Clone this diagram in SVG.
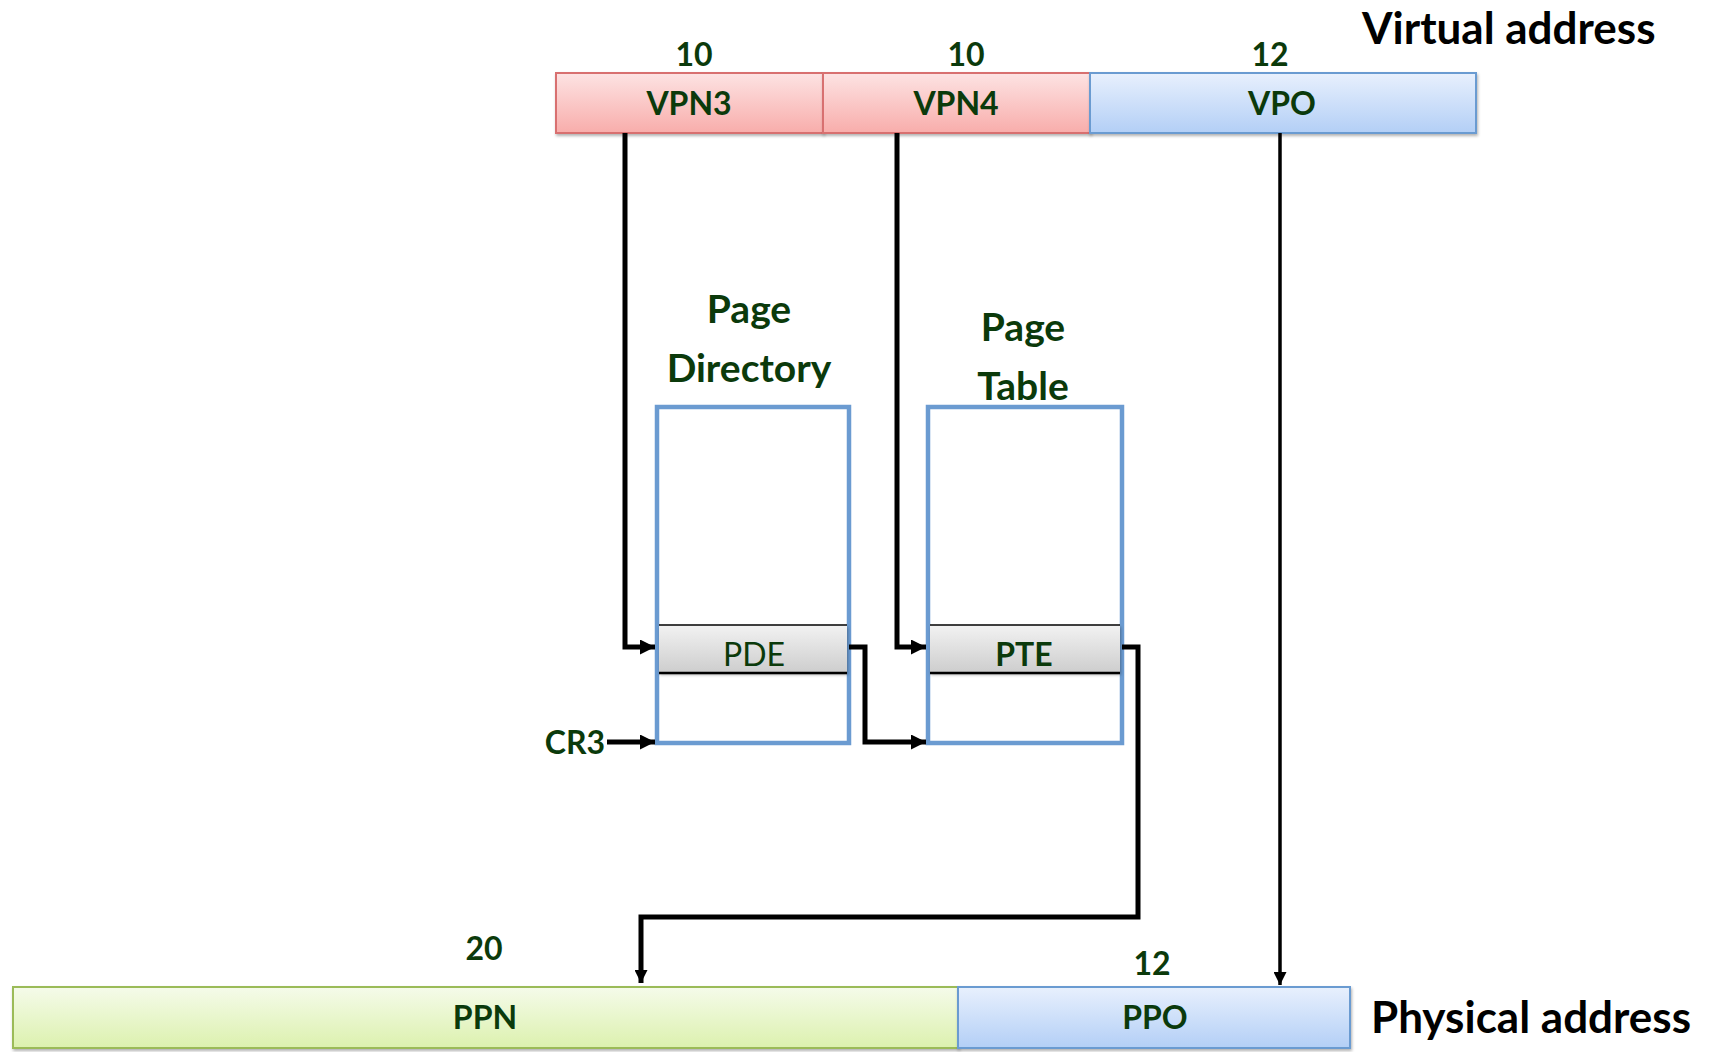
<svg xmlns="http://www.w3.org/2000/svg" width="1716" height="1052" viewBox="0 0 1716 1052">
<defs>
<linearGradient id="gRed" x1="0" y1="0" x2="0" y2="1"><stop offset="0" stop-color="#fde3e3"/><stop offset="1" stop-color="#f8adab"/></linearGradient>
<linearGradient id="gBlue" x1="0" y1="0" x2="0" y2="1"><stop offset="0" stop-color="#e8f0fd"/><stop offset="1" stop-color="#b3cff6"/></linearGradient>
<linearGradient id="gGreen" x1="0" y1="0" x2="0" y2="1"><stop offset="0" stop-color="#f5fbea"/><stop offset="1" stop-color="#dcf1ae"/></linearGradient>
<linearGradient id="gGray" x1="0" y1="0" x2="0" y2="1"><stop offset="0" stop-color="#f2f2f2"/><stop offset="1" stop-color="#cdcdcd"/></linearGradient>
<filter id="sh" x="-5%" y="-20%" width="110%" height="150%"><feDropShadow dx="1" dy="2" stdDeviation="1.5" flood-color="#000" flood-opacity="0.3"/></filter>
<marker id="ah" viewBox="0 0 10 10" refX="10" refY="5" markerWidth="18" markerHeight="15" markerUnits="userSpaceOnUse" orient="auto"><path d="M0,0 L10,5 L0,10 z" fill="#000"/></marker>
<marker id="ah2" viewBox="0 0 10 10" refX="10" refY="5" markerWidth="17" markerHeight="13" markerUnits="userSpaceOnUse" orient="auto"><path d="M0,0 L10,5 L0,10 z" fill="#000"/></marker>
</defs>
<style>
.lbl{font-family:Lato,"Open Sans",sans-serif;font-weight:bold;fill:#0b3a0b;text-anchor:middle}
.title{font-family:Lato,"Open Sans",sans-serif;font-weight:bold;fill:#000;font-size:44px}
.tbl{fill:#fff;stroke:#6b9bd1;stroke-width:4.5}
.conn{fill:none;stroke:#000;stroke-width:5;stroke-linejoin:miter}
.conn2{fill:none;stroke:#000;stroke-width:3.5}
</style>

<text class="title" x="1362" y="44">Virtual address</text>
<text class="title" x="1371" y="1033">Physical address</text>

<g id="vpn3">
<text class="lbl" x="694" y="66" font-size="32">10</text>
<rect x="556" y="73" width="267" height="60" fill="url(#gRed)" stroke="#d8706f" stroke-width="2" filter="url(#sh)"/>
<text class="lbl" x="689" y="115" font-size="32">VPN3</text>
</g>
<g id="vpn4">
<text class="lbl" x="966" y="66" font-size="32">10</text>
<rect x="823" y="73" width="267" height="60" fill="url(#gRed)" stroke="#d8706f" stroke-width="2" filter="url(#sh)"/>
<text class="lbl" x="956" y="115" font-size="32">VPN4</text>
</g>
<g id="vpo">
<text class="lbl" x="1270" y="66" font-size="32">12</text>
<rect x="1090" y="73" width="386" height="60" fill="url(#gBlue)" stroke="#6b9bd1" stroke-width="2" filter="url(#sh)"/>
<text class="lbl" x="1282" y="115" font-size="32">VPO</text>
</g>

<g id="pagedir">
<text class="lbl" x="749" y="323" font-size="39">Page</text>
<text class="lbl" x="749" y="382" font-size="39">Directory</text>
<rect class="tbl" x="657" y="407" width="192" height="336"/>
<rect x="659" y="625" width="188" height="48" fill="url(#gGray)" filter="url(#sh)"/>
<line x1="659" y1="625" x2="847" y2="625" stroke="#000" stroke-width="1.5"/>
<line x1="659" y1="673" x2="847" y2="673" stroke="#000" stroke-width="2.5"/>
<text class="lbl" x="754" y="666" font-size="32" style="font-weight:normal">PDE</text>
</g>

<g id="pagetable">
<text class="lbl" x="1023" y="341" font-size="39">Page</text>
<text class="lbl" x="1023" y="400" font-size="39">Table</text>
<rect class="tbl" x="928" y="407" width="194" height="336"/>
<rect x="930" y="625" width="190" height="48" fill="url(#gGray)" filter="url(#sh)"/>
<line x1="930" y1="625" x2="1120" y2="625" stroke="#000" stroke-width="1.5"/>
<line x1="930" y1="673" x2="1120" y2="673" stroke="#000" stroke-width="2.5"/>
<text class="lbl" x="1024" y="666" font-size="32">PTE</text>
</g>

<g id="cr3">
<text class="lbl" x="575" y="754" font-size="32">CR3</text>
</g>

<g id="ppn">
<text class="lbl" x="484" y="960" font-size="32">20</text>
<rect x="13" y="987" width="945" height="61" fill="url(#gGreen)" stroke="#9bbb59" stroke-width="2" filter="url(#sh)"/>
<text class="lbl" x="485" y="1029" font-size="32">PPN</text>
</g>
<g id="ppo">
<text class="lbl" x="1152" y="975" font-size="32">12</text>
<rect x="958" y="987" width="392" height="61" fill="url(#gBlue)" stroke="#6b9bd1" stroke-width="2" filter="url(#sh)"/>
<text class="lbl" x="1155" y="1029" font-size="32">PPO</text>
</g>

<g id="connectors">
<path class="conn" d="M625,133 V647 H655" marker-end="url(#ah)"/>
<path class="conn" d="M897,133 V647 H926" marker-end="url(#ah)"/>
<path class="conn" d="M607,742 H655" marker-end="url(#ah)"/>
<path class="conn" d="M849,647 H865 V742 H926" marker-end="url(#ah)"/>
<path class="conn" d="M1122,647 H1138 V917 H641 V983" marker-end="url(#ah2)"/>
<path class="conn2" d="M1280,133 V985" marker-end="url(#ah2)"/>
</g>
</svg>
